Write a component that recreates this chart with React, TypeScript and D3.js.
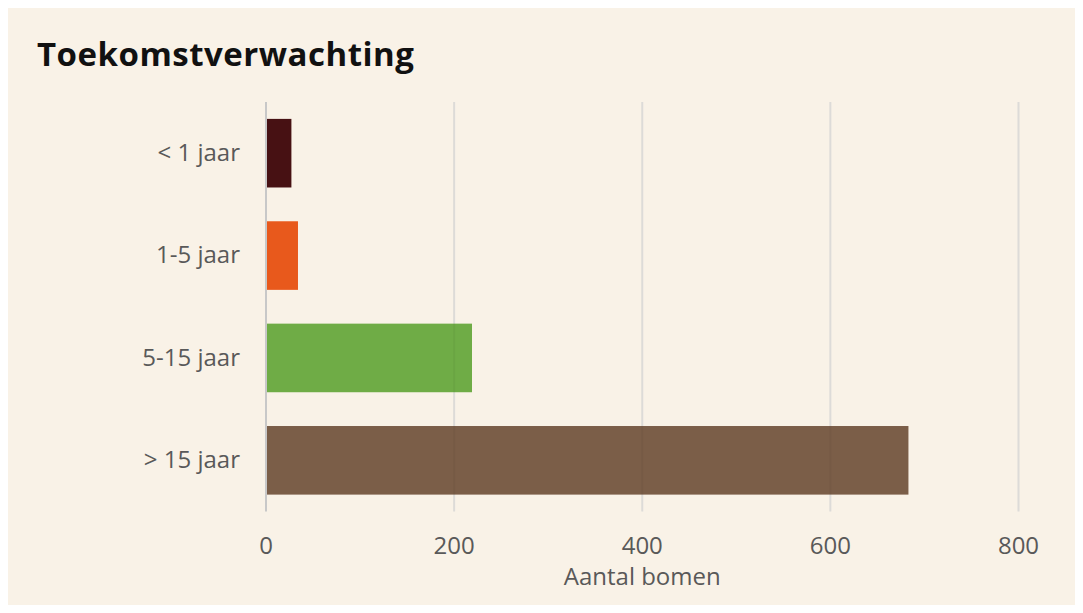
import React from 'react';
import * as d3 from 'd3';

const categories = ['< 1 jaar', '1-5 jaar', '5-15 jaar', '> 15 jaar'];
const values = [27, 34, 219, 683];
const barColors = ['#471113', '#e8591c', '#6fac46', '#7b5e48'];
const xTicks = [0, 200, 400, 600, 800];

const W = 1067;
const H = 597;
const FONT = '"Open Sans", sans-serif';

export default function App() {
  const x = d3.scaleLinear().domain([0, 800]).range([258, 1010.5]);
  const y = d3.scaleBand<string>()
    .domain(categories)
    .range([94, 503.5])
    .paddingInner(0.33)
    .paddingOuter(0.165);

  const gridTicks = xTicks.filter(t => t > 0);

  return (
    <svg width={W} height={H} style={{ display: 'block' }}>
      <rect width={W} height={H} fill="#f9f2e7" />
      <text x={29} y={58} fontFamily={FONT} fontWeight={700} fontSize={33} letterSpacing={0.5} fill="#111">
        Toekomstverwachting
      </text>

      {/* light grid behind the bars */}
      {gridTicks.map(t => (
        <line key={t} x1={x(t)} x2={x(t)} y1={94} y2={503.5} stroke="#e6e4e1" strokeWidth={2} />
      ))}

      {categories.map((c, i) => (
        <rect key={c} x={x(0)} y={y(c)} width={x(values[i]) - x(0)} height={y.bandwidth()} fill={barColors[i]} />
      ))}

      {/* faint shadow of the grid that shows through the bars */}
      {gridTicks.map(t => (
        <line key={'o' + t} x1={x(t)} x2={x(t)} y1={94} y2={503.5} stroke="#000" strokeOpacity={0.04} strokeWidth={2} />
      ))}
      <line x1={x(0)} x2={x(0)} y1={94} y2={503.5} stroke="#c8c8c8" strokeWidth={2} />

      {categories.map(c => (
        <text key={c} x={232} y={y(c)! + y.bandwidth() / 2} dy="0.33em" textAnchor="end"
          fontFamily={FONT} fontSize={24} fill="#595959">{c}</text>
      ))}

      {xTicks.map(t => (
        <text key={t} x={x(t)} y={545.5} textAnchor="middle" fontFamily={FONT} fontSize={24} fill="#595959">{t}</text>
      ))}
      <text x={x(400)} y={577} textAnchor="middle" fontFamily={FONT} fontSize={24} fill="#595959">Aantal bomen</text>
    </svg>
  );
}
